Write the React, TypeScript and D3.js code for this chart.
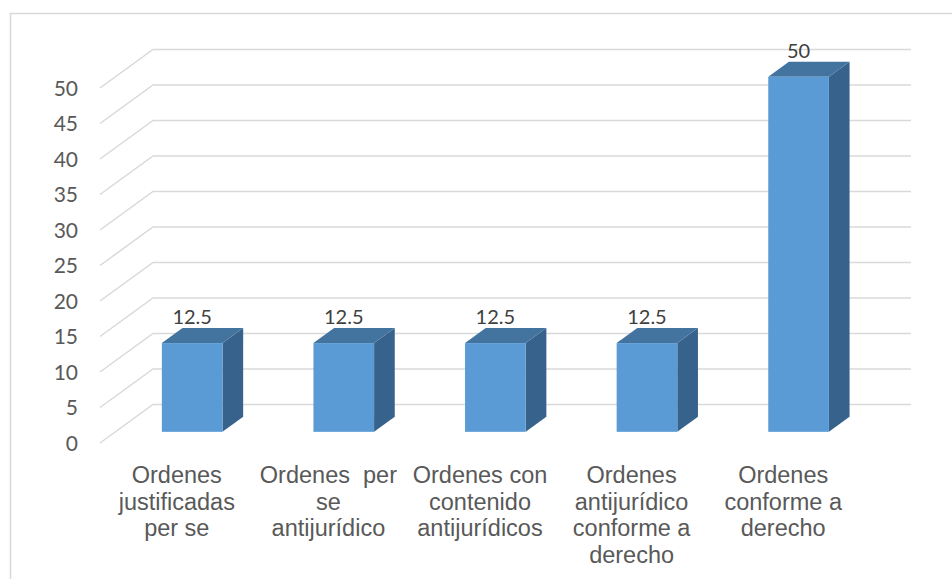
import React, { useEffect, useRef } from "react";
import * as d3 from "d3";

const categories = [
  "Ordenes justificadas per se",
  "Ordenes  per se antijurídico",
  "Ordenes con contenido antijurídicos",
  "Ordenes antijurídico conforme a derecho",
  "Ordenes conforme a derecho",
];
// how the labels wrap in the original
const categoryLines = [
  ["Ordenes", "justificadas", "per se"],
  ["Ordenes\u00a0 per", "se", "antijurídico"],
  ["Ordenes con", "contenido", "antijurídicos"],
  ["Ordenes", "antijurídico", "conforme a", "derecho"],
  ["Ordenes", "conforme a", "derecho"],
];
const values = [12.5, 12.5, 12.5, 12.5, 50];
const yTicks = [0, 5, 10, 15, 20, 25, 30, 35, 40, 45, 50];

const App = () => {
  const chartRef = useRef<SVGSVGElement>(null);

  useEffect(() => {
    const width = 952;
    const height = 579;
    const floor = { left: 100, right: 858 };
    const depth = { dx: 53, dy: -38.5 };
    const barFront = 0.29;
    const barDepth = 0.39;

    const svg = d3.select(chartRef.current);
    svg.selectAll("*").remove();

    svg.append("rect")
      .attr("x", 10.5)
      .attr("y", 13.5)
      .attr("width", width)
      .attr("height", height)
      .attr("fill", "#fff")
      .attr("stroke", "#d9d9d9")
      .attr("stroke-width", 1.5);

    const x = d3.scaleBand()
      .domain(categories)
      .range([floor.left, floor.right])
      .paddingInner(0.6)
      .paddingOuter(0.3);

    const y = d3.scaleLinear().domain([0, 50]).range([443, 88]);

    // gridlines: front diagonal then back wall
    svg.append("g")
      .attr("fill", "none")
      .attr("stroke", "#d9d9d9")
      .attr("stroke-width", 1.5)
      .selectAll("path")
      .data(yTicks)
      .enter()
      .append("path")
      .attr("d", (d) => `M${floor.left},${y(d)}L${floor.left + depth.dx},${y(d) + depth.dy}H${floor.right + depth.dx}`);

    svg.append("g")
      .attr("font-family", "Lato, sans-serif")
      .attr("font-size", 21)
      .attr("fill", "#595959")
      .attr("text-anchor", "end")
      .selectAll("text")
      .data(yTicks)
      .enter()
      .append("text")
      .attr("x", 78)
      .attr("y", (d) => y(d))
      .attr("dy", "0.36em")
      .text((d) => d);

    const bw = x.bandwidth();
    const ddx = depth.dx * barDepth;
    const ddy = depth.dy * barDepth;
    const bars = categories.map((c, i) => {
      const x0 = x(c)! + depth.dx * barFront + 1;
      const yb = y(0) + depth.dy * barFront;
      const yt = y(values[i]) + depth.dy * barFront;
      return { c, v: values[i], x0, x1: x0 + bw, yb, yt };
    });

    const g = svg.append("g");
    g.selectAll(".side")
      .data(bars)
      .enter()
      .append("path")
      .attr("fill", "#37628b")
      .attr("d", (d) => `M${d.x1},${d.yt}L${d.x1 + ddx},${d.yt + ddy}L${d.x1 + ddx},${d.yb + ddy}L${d.x1},${d.yb}Z`);
    g.selectAll(".top")
      .data(bars)
      .enter()
      .append("path")
      .attr("fill", "#4374a0")
      .attr("d", (d) => `M${d.x0},${d.yt}L${d.x0 + ddx},${d.yt + ddy}L${d.x1 + ddx},${d.yt + ddy}L${d.x1},${d.yt}Z`);
    g.selectAll(".front")
      .data(bars)
      .enter()
      .append("rect")
      .attr("fill", "#5b9bd5")
      .attr("x", (d) => d.x0)
      .attr("y", (d) => d.yt)
      .attr("width", bw)
      .attr("height", (d) => d.yb - d.yt);

    svg.append("g")
      .attr("font-family", "Lato, sans-serif")
      .attr("font-size", 20)
      .attr("fill", "#404040")
      .attr("text-anchor", "middle")
      .selectAll("text")
      .data(bars)
      .enter()
      .append("text")
      .attr("x", (d) => d.x0 + bw / 2)
      .attr("y", (d) => d.yt + ddy - 4)
      .text((d) => d.v);

    const labels = svg.append("g")
      .attr("font-family", "'Liberation Sans', Arial, sans-serif")
      .attr("font-size", 23.5)
      .attr("fill", "#595959")
      .attr("text-anchor", "middle");

    categories.forEach((c, i) => {
      const cx = x(c)! + bw / 2 + 1;
      const t = labels.append("text")
        .attr("x", cx)
        .attr("y", 483);
      categoryLines[i].forEach((line, j) => {
        t.append("tspan")
          .attr("x", cx)
          .attr("dy", j === 0 ? 0 : 26.5)
          .text(line);
      });
    });
  }, []);

  return (
    <svg
      ref={chartRef}
      width={952}
      height={579}
      style={{ position: "absolute", left: 0, top: 0 }}
    />
  );
};

export default App;
